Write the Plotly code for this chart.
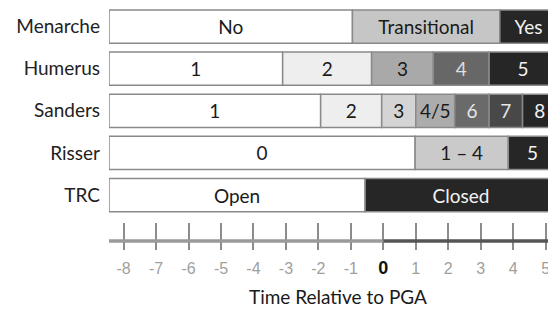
import plotly.graph_objects as go

# ---------------- data ----------------
rows = ["Menarche", "Humerus", "Sanders", "Risser", "TRC"]
time_start = -8.45   # left end of every bar (years relative to PGA)
time_end = 5.35      # right end (clipped at the figure edge)

menarche_stages = ["No", "Transitional", "Yes"]
menarche_ends = [-0.95, 3.59, time_end]

humerus_stages = ["1", "2", "3", "4", "5"]
humerus_ends = [-3.10, -0.36, 1.54, 3.26, time_end]

sanders_stages = ["1", "2", "3", "4/5", "6", "7", "8"]
sanders_ends = [-1.93, -0.05, 1.00, 2.20, 3.26, 4.29, time_end]

risser_stages = ["0", "1 – 4", "5"]
risser_ends = [0.98, 3.85, time_end]

trc_stages = ["Open", "Closed"]
trc_ends = [-0.56, time_end]

tick_values = [-8, -7, -6, -5, -4, -3, -2, -1, 0, 1, 2, 3, 4, 5]
x_title = "Time Relative to PGA"

# ---------------- styles ----------------
K = "#1a1a1a"
W = "#f2f2f2"
fills = {
    "Menarche": ["#ffffff", "#c6c6c6", "#262626"],
    "Humerus": ["#ffffff", "#eeeeee", "#a9a9a9", "#676767", "#262626"],
    "Sanders": ["#ffffff", "#eeeeee", "#d4d4d4", "#acacac", "#6a6a6a", "#484848", "#262626"],
    "Risser": ["#ffffff", "#cacaca", "#262626"],
    "TRC": ["#ffffff", "#262626"],
}
text_cols = {
    "Menarche": [K, K, W],
    "Humerus": [K, K, K, "#dddddd", W],
    "Sanders": [K, K, K, K, "#e6e6e6", "#e6e6e6", W],
    "Risser": [K, K, W],
    "TRC": [K, W],
}
FONT = "Lato, 'Open Sans', sans-serif"

row_data = {
    "Menarche": (menarche_stages, menarche_ends),
    "Humerus": (humerus_stages, humerus_ends),
    "Sanders": (sanders_stages, sanders_ends),
    "Risser": (risser_stages, risser_ends),
    "TRC": (trc_stages, trc_ends),
}

fig = go.Figure()
for row in rows:
    stages, ends = row_data[row]
    left = time_start
    for i, (lab, right) in enumerate(zip(stages, ends)):
        fig.add_trace(go.Bar(
            y=[row], x=[right - left], base=[left], orientation="h",
            width=0.79,
            marker=dict(color=fills[row][i], line=dict(color="#8a8a8a", width=1.5)),
            text=[lab], textposition="inside", insidetextanchor="middle",
            textangle=0, constraintext="none",
            textfont=dict(family=FONT, size=19, color=text_cols[row][i]),
            showlegend=False, hoverinfo="skip", cliponaxis=True,
        ))
        left = right

ticktext = [('<span style="color:#111111;font-size:18px"><b>0</b></span>' if v == 0 else str(v))
            for v in tick_values]

# the page has an 8px body margin, so the figure is drawn 8px smaller
fig.update_layout(
    width=548, height=303,
    margin=dict(l=101, r=0, t=0, b=70),
    paper_bgcolor="white", plot_bgcolor="white",
    barmode="overlay",
    uniformtext=dict(minsize=19, mode="show"),
    xaxis=dict(
        range=[time_start, 5.32], showgrid=False, zeroline=False, showline=False,
        tickmode="array", tickvals=tick_values, ticktext=ticktext,
        ticks="outside", ticklen=8, tickwidth=1.5, tickcolor="#8c8c8c",
        tickfont=dict(family="'Liberation Sans', Arial, sans-serif", size=16, color="#a0a0a0"),
        ticklabelstandoff=5,
    ),
    xaxis2=dict(
        overlaying="x", matches="x", anchor="y", side="bottom",
        showgrid=False, zeroline=False, showline=False,
        tickmode="array", tickvals=tick_values, showticklabels=False,
        ticks="inside", ticklen=18, tickwidth=1.5, tickcolor="#8c8c8c",
    ),
    yaxis=dict(
        type="category", categoryorder="array", categoryarray=rows,
        range=[5.09, -0.44], showgrid=False, zeroline=False, showline=False,
        ticks="", ticklabelstandoff=8,
        tickfont=dict(family=FONT, size=19, color="#222222"),
    ),
    annotations=[dict(
        text=x_title, xref="paper", yref="paper", x=0.512, y=-0.240,
        xanchor="center", yanchor="middle", showarrow=False,
        font=dict(family=FONT, size=19, color="#1a1a1a"),
    )],
    shapes=[
        dict(type="line", xref="x", yref="paper", x0=time_start, x1=0, y0=0, y1=0,
             line=dict(color="#9a9a9a", width=3.5)),
        dict(type="line", xref="x", yref="paper", x0=0, x1=5.32, y0=0, y1=0,
             line=dict(color="#555555", width=3.5)),
    ],
)
# invisible trace to activate xaxis2 (the long inside ticks)
fig.add_trace(go.Scatter(x=[time_start], y=[rows[0]], xaxis="x2", mode="markers",
                         marker=dict(opacity=0), showlegend=False, hoverinfo="skip"))

fig.write_html("out.html")
